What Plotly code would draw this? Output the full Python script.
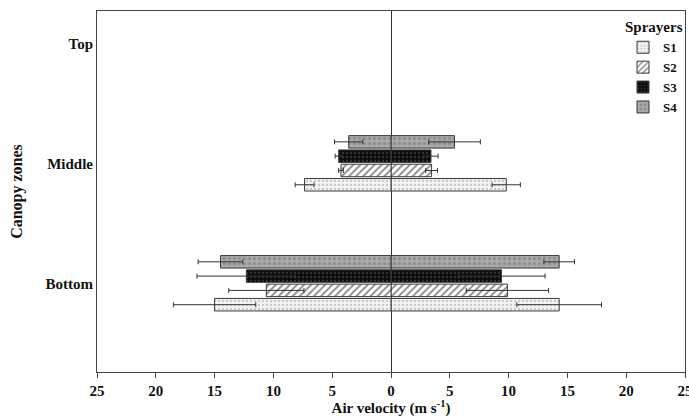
import plotly.graph_objects as go

# Canopy zones (bottom to top) and sprayers
zones = ["Bottom", "Middle", "Top"]
sprayers = ["S1", "S2", "S3", "S4"]

# Air velocity (m/s) on the right side of the row, per zone
right_vals = {
    "S1": [14.3, 9.8, None],
    "S2": [9.9, 3.45, None],
    "S3": [9.4, 3.4, None],
    "S4": [14.3, 5.4, None],
}
right_err = {
    "S1": [3.6, 1.2, None],
    "S2": [3.5, 0.5, None],
    "S3": [3.7, 0.6, None],
    "S4": [1.3, 2.2, None],
}
# Air velocity (m/s) on the left side of the row, per zone
left_vals = {
    "S1": [15.0, 7.35, None],
    "S2": [10.6, 4.25, None],
    "S3": [12.3, 4.45, None],
    "S4": [14.5, 3.6, None],
}
left_err = {
    "S1": [3.5, 0.8, None],
    "S2": [3.2, 0.2, None],
    "S3": [4.2, 0.3, None],
    "S4": [1.9, 1.2, None],
}

x_ticks = [-25, -20, -15, -10, -5, 0, 5, 10, 15, 20, 25]

patterns = {
    "S1": dict(shape=".", bgcolor="#f3f3f3", fgcolor="#9a9a9a", size=4, solidity=0.25),
    "S2": dict(shape="/", bgcolor="#ffffff", fgcolor="#111111", size=5, solidity=0.35),
    "S3": dict(shape=".", bgcolor="#0c0c0c", fgcolor="#5a5a5a", size=4, solidity=0.25),
    "S4": dict(shape=".", bgcolor="#a9a9a9", fgcolor="#6e6e6e", size=5, solidity=0.3),
}

FONT = "Liberation Serif"
fig = go.Figure()


def neg(vals):
    return [None if v is None else -v for v in vals]


for s in sprayers:
    common = dict(
        orientation="h",
        y=zones,
        offsetgroup=s,
        name=f"<b>{s}</b>",
        marker=dict(color=patterns[s]["bgcolor"], pattern=patterns[s],
                    line=dict(color="#3a3a3a", width=1)),
        legendgroup=s,
    )
    fig.add_trace(go.Bar(
        x=right_vals[s], showlegend=True,
        error_x=dict(type="data", array=right_err[s], color="#333333",
                     thickness=1, width=2.5),
        **common,
    ))
    fig.add_trace(go.Bar(
        x=neg(left_vals[s]), showlegend=False,
        error_x=dict(type="data", array=left_err[s], color="#333333",
                     thickness=1, width=2.5),
        **common,
    ))

fig.update_layout(
    width=689, height=417,
    margin=dict(l=97, r=4, t=11, b=45),
    paper_bgcolor="white", plot_bgcolor="white",
    barmode="group", bargap=0.523, bargroupgap=0.126,
    font=dict(family=FONT, color="#111111", size=14),
    legend=dict(
        title=dict(text="<b>Sprayers</b>", font=dict(family=FONT, size=15)),
        font=dict(family=FONT, size=13),
        x=1.0, y=0.995, xanchor="right", yanchor="top",
        bgcolor="rgba(0,0,0,0)", itemwidth=30, traceorder="normal",
        tracegroupgap=0,
    ),
    xaxis=dict(
        range=[-25, 25], tickvals=x_ticks,
        ticktext=[f"<b>{abs(v)}</b>" for v in x_ticks],
        ticklabeloverflow="allow", automargin=False,
        ticks="outside", ticklen=5, tickcolor="#444444",
        showline=True, linecolor="#444444", linewidth=1, mirror=True,
        showgrid=False, zeroline=True, zerolinecolor="#333333", zerolinewidth=1,
        tickfont=dict(family=FONT, size=15),
        title=dict(text="<b>Air velocity (m s<sup>-1</sup>)</b>",
                   font=dict(family=FONT, size=15), standoff=2),
    ),
    yaxis=dict(
        type="category", categoryorder="array", categoryarray=zones,
        range=[-0.74, 2.27], automargin=False,
        tickvals=zones, ticktext=[f"<b>{z}</b>" for z in zones],
        ticks="", showline=True, linecolor="#444444", linewidth=1, mirror=True,
        showgrid=False, tickfont=dict(family=FONT, size=15),
        title=dict(text="<b>Canopy zones</b>", font=dict(family=FONT, size=16),
                   standoff=18),
    ),
)

fig.write_html("out.html")
